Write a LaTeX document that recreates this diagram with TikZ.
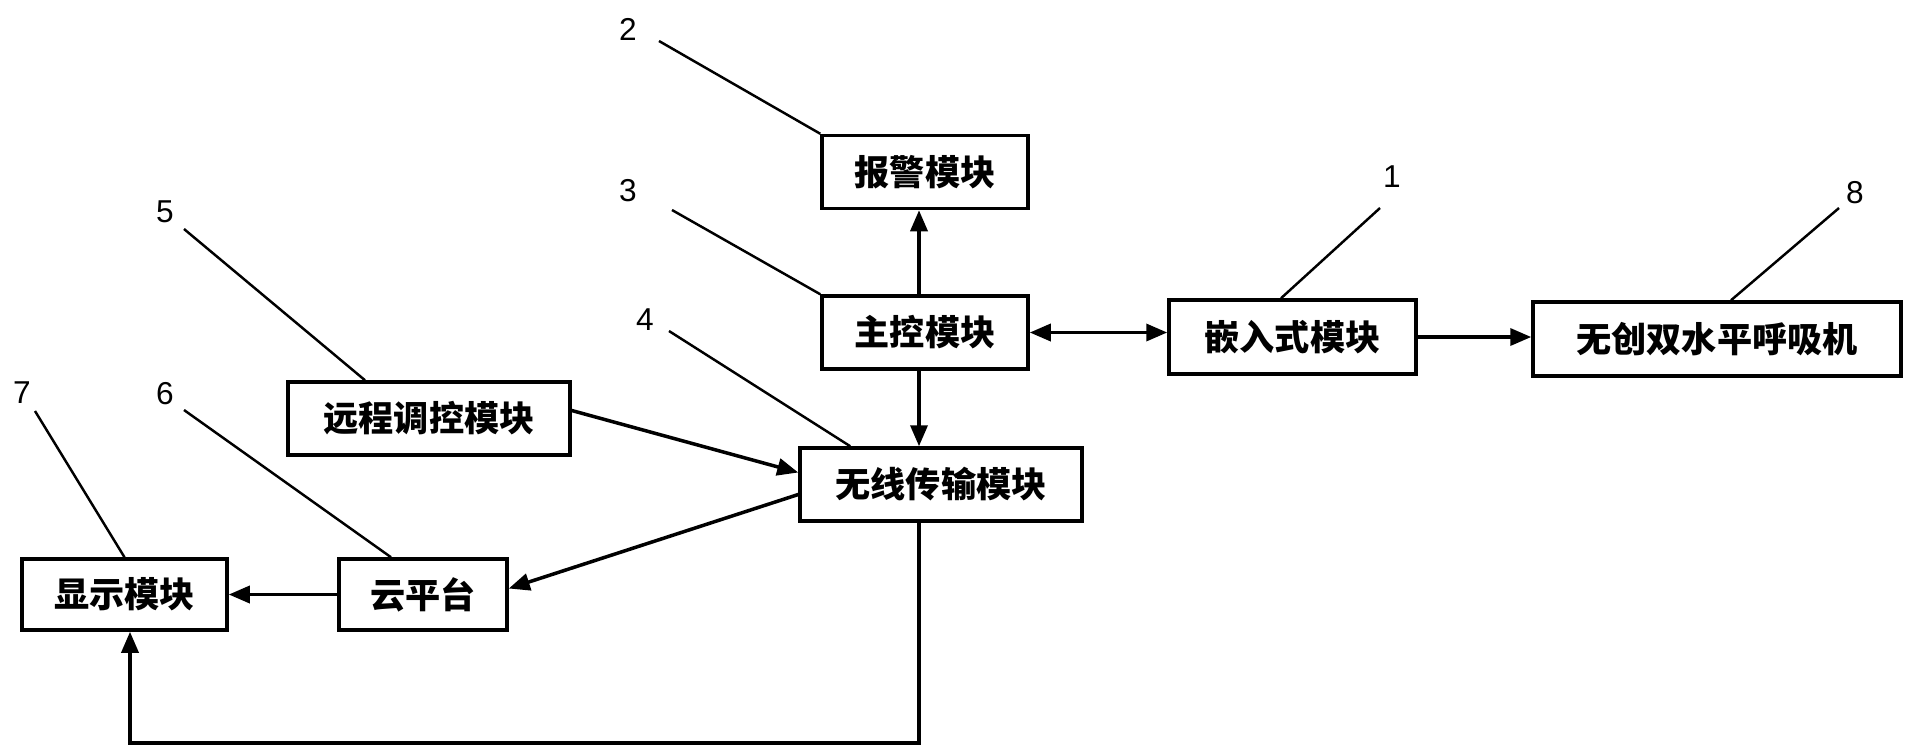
\documentclass[tikz,border=0pt]{standalone}
\usepackage{fontspec}
\setmainfont{Liberation Sans}
\newfontfamily\cjk{Noto Sans CJK SC}
\usetikzlibrary{arrows.meta}
\begin{document}
\begin{tikzpicture}[
        >={Triangle[length=2.1mm,width=1.7mm]},
        box/.style={draw, line width=1pt, minimum height=0.73cm, inner sep=0pt, font=\cjk\bfseries\fontsize{10}{12}\selectfont},
        arr/.style={line width=1pt, ->},
        lead/.style={line width=0.7pt},
        num/.style={font=\fontsize{9}{10}\selectfont, inner sep=0pt}
    ]
            \useasboundingbox (0,0) rectangle (19.06,7.52);
            \node[box, minimum width=2.06cm] (alarm) at (9.25,5.80) {报警模块};
            \node[box, minimum width=2.06cm] (master) at (9.25,4.195) {主控模块};
            \node[box, minimum width=2.82cm] (remote) at (4.29,3.335) {远程调控模块};
            \node[box, minimum width=2.82cm] (wireless) at (9.41,2.675) {无线传输模块};
            \node[box, minimum width=2.05cm, minimum height=0.71cm] (display) at (1.245,1.575) {显示模块};
            \node[box, minimum width=1.68cm, minimum height=0.71cm] (cloud) at (4.23,1.575) {云平台};
            \node[box, minimum width=2.47cm, minimum height=0.74cm] (embed) at (12.925,4.15) {嵌入式模块};
            \node[box, minimum width=3.68cm, minimum height=0.74cm] (vent) at (17.17,4.13) {无创双水平呼吸机};

            \node[num] (n1) at (13.92,5.75) {1};
            \node[num] (n2) at (6.28,7.23) {2};
            \node[num] (n3) at (6.28,5.61) {3};
            \node[num] (n4) at (6.45,4.32) {4};
            \node[num] (n5) at (1.65,5.40) {5};
            \node[num] (n6) at (1.65,3.58) {6};
            \node[num] (n7) at (0.22,3.59) {7};
            \node[num] (n8) at (18.55,5.59) {8};

            \draw[lead] ([shift={(-0.12,-0.31)}]n1.center) -- ([xshift=-0.115cm]embed.north);
            \draw[lead] ([shift={(0.31,-0.12)}]n2.center) -- (alarm.north west);
            \draw[lead] ([shift={(0.44,-0.19)}]n3.center) -- (master.north west);
            \draw[lead] ([shift={(0.24,-0.11)}]n4.center) -- ([xshift=0.52cm]wireless.north west);
            \draw[lead] ([shift={(0.19,-0.17)}]n5.center) -- ([xshift=-0.64cm]remote.north);
            \draw[lead] ([shift={(0.19,-0.16)}]n6.center) -- ([xshift=-0.32cm]cloud.north);
            \draw[lead] ([shift={(0.13,-0.18)}]n7.center) -- (display.north);
            \draw[lead] ([shift={(-0.16,-0.15)}]n8.center) -- ([xshift=0.14cm]vent.north);

            \draw[arr] ([xshift=-0.06cm]master.north) -- ([xshift=-0.06cm]alarm.south);
            \draw[arr] ([xshift=-0.06cm]master.south) -- ([xshift=-0.06cm]master.south |- wireless.north);
            \draw[arr, <->] (master.east) -- (master.east -| embed.west);
            \draw[arr] (embed.east) -- (embed.east -| vent.west);
            \draw[arr] ([yshift=0.08cm]remote.east) -- ([yshift=0.12cm]wireless.west);
            \draw[arr] ([yshift=-0.1cm]wireless.west) -- ([yshift=0.06cm]cloud.east);
            \draw[arr] (cloud.west) -- (cloud.west -| display.east);
            \coordinate (turn) at (1.30,0.09);
            \draw[arr] ([xshift=-0.22cm]wireless.south) |- (turn) -- (turn |- display.south);
        \end{tikzpicture}
\end{document}
